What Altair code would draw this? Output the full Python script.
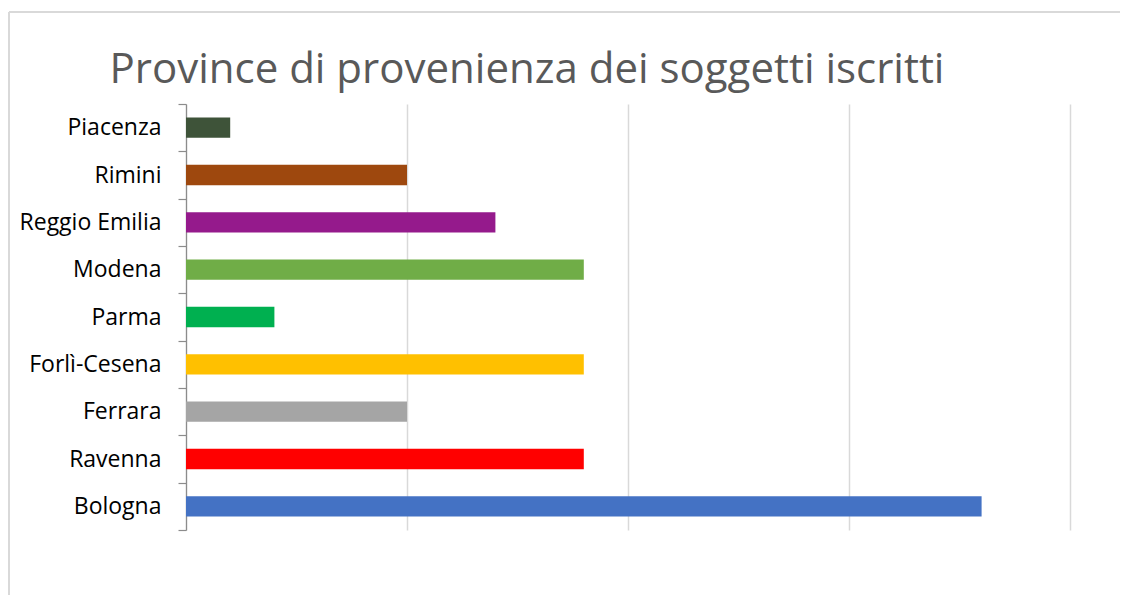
import altair as alt
import pandas as pd

provinces = ["Piacenza", "Rimini", "Reggio Emilia", "Modena", "Parma",
             "Forlì-Cesena", "Ferrara", "Ravenna", "Bologna"]
counts = [1, 5, 7, 9, 2, 9, 5, 9, 18]
colors = ["#3E5339", "#9E480E", "#951A8C", "#70AD47", "#00B050",
          "#FFC000", "#A5A5A5", "#FF0000", "#4472C4"]
x_ticks = [0, 5, 10, 15, 20]
title_text = "Province di provenienza dei soggetti iscritti"

df = pd.DataFrame({"provincia": provinces, "n": counts, "colore": colors})

W, H = 884, 426

bars = alt.Chart(df).mark_bar(height={"band": 0.43}).encode(
    x=alt.X("n:Q", scale=alt.Scale(domain=[0, 20], nice=False),
            axis=alt.Axis(values=x_ticks, labels=False, ticks=False, domain=False,
                          grid=True, gridColor="#d9d9d9", gridWidth=1.5, title=None)),
    y=alt.Y("provincia:N", sort=provinces,
            scale=alt.Scale(paddingInner=0, paddingOuter=0),
            axis=alt.Axis(title=None, tickBand="extent", tickSize=8, tickColor="#8c8c8c",
                          domainColor="#8c8c8c", domainWidth=1.2, tickWidth=1.2,
                          labelFont="Open Sans", labelFontSize=23, labelColor="#000000",
                          labelPadding=17, grid=False)),
    color=alt.Color("colore:N", scale=None, legend=None),
)

border_left = alt.Chart(df).mark_rule(color="#d9d9d9", strokeWidth=1.5).encode(
    x=alt.value(-177), y=alt.value(-92), y2=alt.value(560))
border_top = alt.Chart(df).mark_rule(color="#d9d9d9", strokeWidth=1.5).encode(
    x=alt.value(-177), x2=alt.value(1000), y=alt.value(-92))

title = alt.Chart(pd.DataFrame({"t": [title_text]})).mark_text(
    font="Open Sans", fontSize=42, color="#595959", align="center", baseline="alphabetic"
).encode(text="t:N", x=alt.value(341), y=alt.value(-21))

chart = alt.layer(border_left, border_top, bars, title).properties(
    width=W, height=H,
    autosize=alt.AutoSizeParams(type="none"),
    padding={"left": 178, "top": 96, "right": 50, "bottom": 65},
).configure(background="white").configure_view(stroke=None)

chart.save("out.html", embed_options={"renderer": "svg", "actions": False})
